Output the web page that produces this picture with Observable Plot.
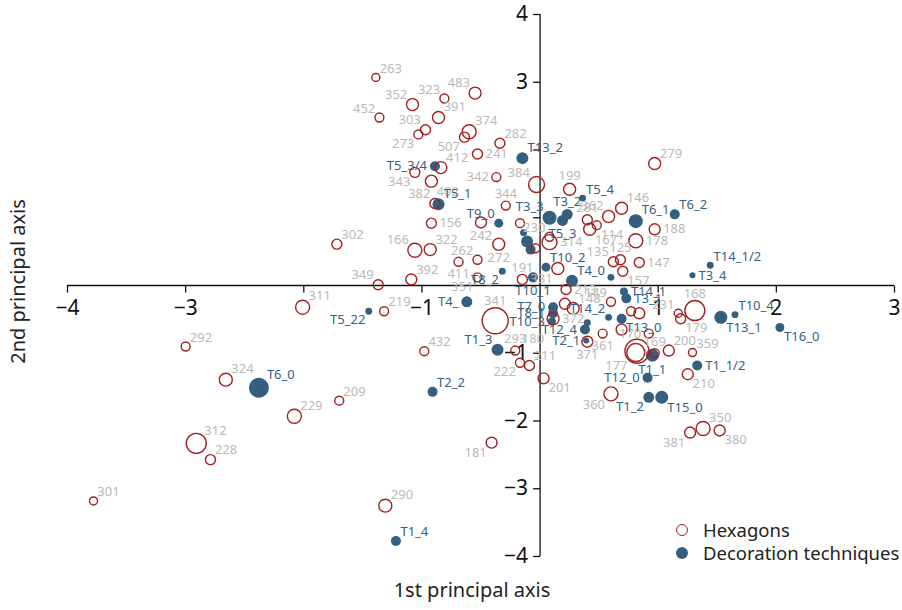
<!DOCTYPE html>
<html><head><meta charset="utf-8">
<script src="https://cdn.jsdelivr.net/npm/d3@7"></script>
<script src="https://cdn.jsdelivr.net/npm/@observablehq/plot@0.6"></script>
<style>
body{margin:0;background:#fff;font-family:"Noto Sans",sans-serif;}
#wrap{position:relative;width:902px;height:610px;overflow:hidden;}
.xt{position:absolute;left:312px;width:320px;text-align:center;top:576px;font-size:20px;color:#222;}
.yt{position:absolute;left:-143px;top:268px;width:320px;text-align:center;font-size:20px;color:#222;transform:rotate(-90deg);}
.lg{position:absolute;left:676px;top:518px;font-size:18.5px;color:#222;line-height:23px;}
.lg div{display:flex;align-items:center;}
.lg span.s{display:inline-block;width:12px;height:12px;border-radius:50%;margin-right:15px;box-sizing:border-box;}
</style></head><body><div id="wrap"></div>
<script>
// ---- Hexagons (open circles) ----
const hexLabels = ["263","352","323","483","452","391","303","273","374","507","282","241","412","343","402","342","384","279","199","344","382","156","166","322","242","262","272","411","392","302","349","311","219","351","191","331","230","314","","","135","125","147","157","281","114","167","362","146","188","178","213","149","148","","372","231","179","168","","","","361","170","177","","169","200","359","210","360","350","381","380","201","211","222","293","180","341","432","371","181","290","209","229","324","292","312","228","301"];
const hexX = [-1.39,-1.08,-0.81,-0.55,-1.36,-0.86,-0.97,-1.03,-0.60,-0.64,-0.34,-0.53,-0.84,-1.06,-0.92,-0.37,-0.03,0.97,0.25,-0.29,-0.89,-0.92,-1.06,-0.93,-0.50,-0.53,-0.35,-0.69,-1.09,-1.72,-1.37,-2.01,-1.32,-0.53,-0.15,0.15,0.08,0.08,-0.04,-0.17,0.62,0.68,0.84,0.70,0.40,0.48,0.42,0.58,0.69,0.97,0.81,0.22,0.60,0.28,0.21,0.11,1.17,1.19,1.31,0.77,0.84,0.69,0.53,0.92,0.82,0.81,0.97,1.09,1.29,1.25,0.60,1.38,1.27,1.52,0.03,-0.09,-0.17,-0.21,-0.06,-0.38,-0.98,0.40,-0.41,-1.31,-1.70,-2.08,-2.66,-3.00,-2.91,-2.79,-3.78];
const hexY = [3.07,2.67,2.76,2.84,2.48,2.48,2.30,2.23,2.27,2.19,2.10,1.94,1.74,1.67,1.54,1.60,1.49,1.80,1.42,1.18,1.21,0.92,0.52,0.53,0.93,0.38,0.61,0.35,0.09,0.61,0.01,-0.32,-0.38,0.12,0.09,0.25,0.72,0.64,0.55,0.92,0.35,0.38,0.34,0.21,0.97,0.89,0.83,1.02,1.14,0.83,0.66,-0.06,-0.24,-0.34,-0.27,-0.49,-0.41,-0.49,-0.37,-0.38,-0.41,-0.65,-0.71,-0.71,-0.97,-0.99,-1.00,-0.96,-0.99,-1.31,-1.60,-2.11,-2.17,-2.14,-1.37,-1.18,-1.14,-0.96,-0.90,-0.52,-0.97,-0.83,-2.32,-3.25,-1.70,-1.93,-1.39,-0.90,-2.33,-2.57,-3.18];
const hexWeight = [16,36,20,36,20,36,25,20,49,25,25,25,36,25,36,20,64,36,36,20,25,25,49,36,30,20,36,20,30,25,25,49,20,20,25,36,20,56,20,20,25,25,25,25,25,20,36,36,36,30,49,25,20,36,30,36,16,25,100,20,30,30,20,20,144,81,20,30,16,30,49,49,30,30,30,25,20,20,1,169,20,30,30,42,20,49,42,20,100,25,16];
const hexLabelSide = ["NE","NW","NW","NW","NW","NE","NW","SW","NE","SW","NE","E","NE","SW","SE","W","NW","NE","N","N","NW","E","NW","NE","S","NW","S","S","NE","NE","NW","NE","NE","SW","N","SW","NW","E","","","NW","N","E","SE","N","SE","SE","NW","NE","E","E","E","NW","NE","","E","NW","SE","N","","","","S","W","SW","","N","NE","NE","SE","SW","NE","SW","SE","SE","NE","SW","N","N","N","NE","S","SW","NE","NE","NE","NE","NE","NE","NE","NE"];

// ---- Decoration techniques (filled dots) ----
const decoLabels = ["T13_2","T5_3/4","T5_1","T9_0","T3_3","T3_2","T5_3","T5_4","T6_1","T6_2","T14_1/2","T3_4","T10_4","T13_1","T16_0","T10_2","T4_0","","T8_2","T10_1","T7_0","T8_1","T10_3","T4_","T1_3","T2_2","T5_22","T6_0","T1_4","T1_1","T1_1/2","T12_0","T1_2","T15_0","T12_4","","T2_1","T14_2","T13_0","T14_1","T3_1","","",""];
const decoX = [-0.15,-0.89,-0.86,-0.35,0.08,0.23,0.19,0.36,0.81,1.14,1.44,1.29,1.65,1.53,2.03,0.05,0.27,0.60,-0.32,-0.06,0.11,0.11,0.10,-0.62,-0.36,-0.91,-1.45,-2.38,-1.22,0.95,1.33,0.91,0.92,1.03,0.38,0.40,0.39,0.58,0.69,0.71,0.73,-0.14,-0.11,-0.08];
const decoY = [1.88,1.76,1.20,0.92,1.00,1.05,0.96,1.29,0.95,1.05,0.30,0.15,-0.43,-0.47,-0.62,0.27,0.07,0.12,0.21,0.12,-0.32,-0.41,-0.53,-0.24,-0.95,-1.57,-0.38,-1.51,-3.77,-1.03,-1.18,-1.36,-1.65,-1.65,-0.65,-0.55,-0.81,-0.47,-0.49,-0.09,-0.19,0.78,0.65,0.53];
const decoWeight = [36,25,36,20,49,30,30,12,49,25,12,9,12,42,20,20,36,12,12,25,25,25,16,30,36,25,12,100,25,42,25,25,30,42,25,12,9,12,25,16,25,12,36,25];
const decoLabelSide = ["NE","W","NE","NW","NW","N","S","NE","NE","NE","NE","E","NE","SE","SE","NE","NE","","SW","S","W","W","W","W","NW","NE","SW","NE","NE","S","E","W","SW","SE","W","","W","NW","SE","E","E","","",""];

// ---- Axes ----
const xDomain = [-4, 3];
const yDomain = [-4, 4];
const xTicks = [-4, -3, -2, -1, 1, 2, 3];
const xTickLabels = ["−4", "−3", "", "−1", "1", "2", "3"];
const yTicks = [4, 3, 2, 1, -1, -2, -3, -4];
const yTickLabels = ["4", "3", "", "", "−1", "−2", "−3", "−4"];

const hexColor = "#a31f1f";
const decoColor = "#355f7f";
const hexTextColor = "#b9b9b9";

const hex = hexLabels.map((label, i) => ({label, x: hexX[i], y: hexY[i], w: hexWeight[i], side: hexLabelSide[i]}));
const deco = decoLabels.map((label, i) => ({label, x: decoX[i], y: decoY[i], w: decoWeight[i], side: decoLabelSide[i]}));
const hexVisible = hex.filter(d => d.w > 1);

const rMax = 13, wMax = 169;
const rOf = w => Math.sqrt(w / wMax) * rMax;

function offset(side, r) {
  const a = 0.7 * r;
  switch (side) {
    case "NE": return {dx: a + 1, dy: -(a + 6), anchor: "start"};
    case "NW": return {dx: -(a + 1), dy: -(a + 6), anchor: "end"};
    case "SE": return {dx: a + 1, dy: a + 6, anchor: "start"};
    case "SW": return {dx: -(a + 1), dy: a + 6, anchor: "end"};
    case "N": return {dx: 0, dy: -(r + 7), anchor: "middle"};
    case "S": return {dx: 0, dy: r + 8, anchor: "middle"};
    case "E": return {dx: r + 3, dy: 0, anchor: "start"};
    case "W": return {dx: -(r + 3), dy: 0, anchor: "end"};
  }
  return {dx: 0, dy: 0, anchor: "middle"};
}
function labelMarks(data, fill) {
  return data.filter(d => d.label && d.side).map(d => {
    const o = offset(d.side, rOf(d.w));
    return Plot.text([d], {x: "x", y: "y", text: "label", dx: o.dx, dy: o.dy, textAnchor: o.anchor, fill, fontSize: 13});
  });
}

const tickDown = {draw(ctx) { ctx.moveTo(0, 0); ctx.lineTo(0, 7); }};
const tickLeft = {draw(ctx) { ctx.moveTo(0, 0); ctx.lineTo(-7, 0); }};

const xt = xTicks.map((v, i) => ({v, t: xTickLabels[i]}));
const yt = yTicks.map((v, i) => ({v, t: yTickLabels[i]}));

const chart = Plot.plot({
  width: 902, height: 610,
  marginLeft: 67, marginRight: 8, marginTop: 14, marginBottom: 54,
  x: {domain: xDomain, axis: null},
  y: {domain: yDomain, axis: null},
  r: {type: "sqrt", domain: [0, wMax], range: [0, rMax]},
  style: {fontFamily: "Noto Sans", background: "white", overflow: "visible"},
  marks: [
    Plot.ruleY([0], {x1: () => xDomain[0], x2: () => xDomain[1], stroke: "#111", strokeWidth: 1.3}),
    Plot.ruleX([0], {y1: () => yDomain[0], y2: () => yDomain[1], stroke: "#111", strokeWidth: 1.3}),
    Plot.dot(xt, {x: "v", y: () => 0, symbol: tickDown, fill: "none", stroke: "#111", strokeWidth: 1.3}),
    Plot.dot(yt, {x: () => 0, y: "v", symbol: tickLeft, fill: "none", stroke: "#111", strokeWidth: 1.3}),
    Plot.text(xt, {x: "v", y: () => 0, text: "t", dy: 23, fontSize: 21, fill: "#111"}),
    Plot.text(yt, {x: () => 0, y: "v", text: "t", dx: -12, textAnchor: "end", fontSize: 21, fill: "#111"}),
    Plot.dot(deco, {x: "x", y: "y", r: "w", fill: decoColor, stroke: "none", sort: null}),
    Plot.dot(hexVisible, {x: "x", y: "y", r: "w", fill: "none", stroke: hexColor, strokeWidth: 1.4, sort: null}),
    ...labelMarks(hex, hexTextColor),
    ...labelMarks(deco, decoColor)
  ]
});

const wrap = document.getElementById("wrap");
wrap.appendChild(chart);
const xtl = document.createElement("div"); xtl.className = "xt"; xtl.textContent = "1st principal axis"; wrap.appendChild(xtl);
const ytl = document.createElement("div"); ytl.className = "yt"; ytl.textContent = "2nd principal axis"; wrap.appendChild(ytl);
const lg = document.createElement("div"); lg.className = "lg";
lg.innerHTML = `<div><span class="s" style="border:1.5px solid ${hexColor}"></span>Hexagons</div><div><span class="s" style="background:${decoColor}"></span>Decoration techniques</div>`;
wrap.appendChild(lg);
</script></body></html>
